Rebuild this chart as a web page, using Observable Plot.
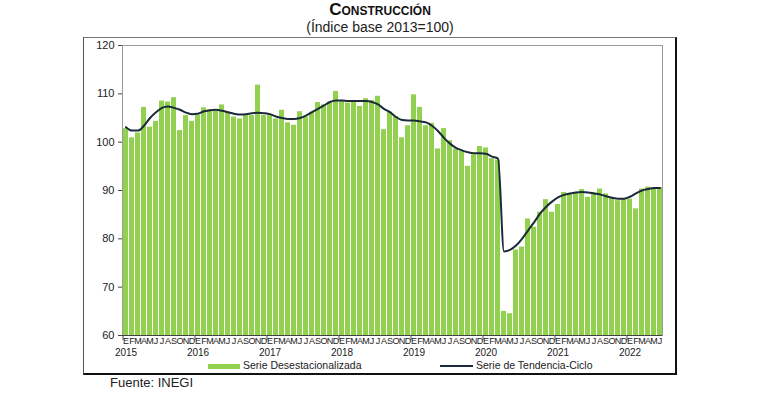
<!DOCTYPE html>
<html><head><meta charset="utf-8">
<script src="https://cdn.jsdelivr.net/npm/d3@7"></script>
<script src="https://cdn.jsdelivr.net/npm/@observablehq/plot@0.6"></script>
<style>
body{margin:0;background:#fff;font-family:"Liberation Sans",Arial,sans-serif;color:#222;}
#wrap{position:relative;width:768px;height:395px;overflow:hidden;background:#fff;}
#title{position:absolute;left:0;width:760px;top:0px;text-align:center;font-weight:bold;font-size:17px;font-variant:small-caps;color:#111;}
#sub{position:absolute;left:0;width:760px;top:19px;text-align:center;font-size:14px;color:#222;}
#box{position:absolute;left:83px;top:37px;width:591px;height:335px;border-left:1px solid #555;border-top:1px solid #777;border-right:2px solid #111;border-bottom:2px solid #111;}
#chart{position:absolute;left:0;top:0;}
.lg{position:absolute;top:359px;font-size:10.5px;color:#222;white-space:nowrap;}
.sw{display:inline-block;vertical-align:middle;}
#src{position:absolute;left:110px;top:375px;font-size:13px;color:#222;}
</style></head><body>
<div id="wrap">
  <div id="title">Construcción</div>
  <div id="sub">(Índice base 2013=100)</div>
  <div id="box"></div>
  <div id="chart"></div>
  <div class="lg" style="left:208px"><span class="sw" style="width:32px;height:5px;background:#92D050;margin-right:3px"></span>Serie Desestacionalizada</div>
  <div class="lg" style="left:440px"><span class="sw" style="width:33px;height:2px;background:#1B2A3A;margin-right:3px"></span>Serie de Tendencia-Ciclo</div>
  <div id="src">Fuente: INEGI</div>
</div>
<script>
const years = ["2015","2016","2017","2018","2019","2020","2021","2022"];
const monthLetters = ["E","F","M","A","M","J","J","A","S","O","N","D"];
const yTicks = [60,70,80,90,100,110,120];
// Serie desestacionalizada, enero 2015 - junio 2022
const desest = [
  102.8,100.9,101.9,107.2,103.1,104.3,108.5,108.3,109.2,102.4,105.5,104.3,
  105.5,107.1,106.7,106.4,107.7,106.2,105.2,104.8,105.5,105.5,111.8,105.5,
  105.5,104.8,106.6,104.0,103.5,106.3,105.2,106.2,108.2,107.7,108.1,110.5,
  108.4,108.1,108.3,107.4,109.0,108.6,109.5,102.6,106.2,105.3,100.9,103.4,
  109.8,107.2,103.4,103.9,98.6,102.8,100.3,98.6,98.1,95.0,97.4,99.1,
  98.8,96.6,96.3,65.0,64.5,77.7,78.3,84.1,82.4,85.5,88.1,85.5,
  87.1,89.6,89.2,89.6,90.2,88.6,89.5,90.3,89.3,88.5,87.9,88.1,
  88.2,86.2,90.3,90.7,90.3,90.6
];
// Serie de tendencia-ciclo
const tendencia = [
  103.1,102.4,102.4,103.4,105.0,106.2,107.1,107.4,107.1,106.7,106.1,105.8,
  105.9,106.4,106.6,106.7,106.5,106.2,105.9,105.7,105.8,106.0,106.1,106.0,
  105.8,105.3,105.0,104.8,104.8,105.0,105.5,106.2,106.9,107.6,108.3,108.6,
  108.6,108.5,108.5,108.5,108.5,108.3,107.8,106.9,106.2,105.2,104.6,104.5,
  104.5,104.3,104.1,103.4,102.3,100.9,99.7,98.8,98.3,97.9,97.7,97.7,
  97.6,97.0,96.6,77.4,77.7,78.6,80.0,81.7,83.4,85.2,86.6,87.7,
  88.6,89.1,89.4,89.6,89.7,89.6,89.4,89.2,88.8,88.5,88.3,88.3,
  88.7,89.4,90.0,90.3,90.5,90.5
];

const idx = desest.map((_, i) => i);
const data = idx.map(i => ({i, v: desest[i], t: tendencia[i], m: monthLetters[i % 12]}));
const jan = idx.filter(i => i % 12 === 0);
const font = '"Liberation Sans", Arial, sans-serif';

const chart = Plot.plot({
  width: 768, height: 372,
  marginTop: 45, marginBottom: 37, marginLeft: 122, marginRight: 106,
  style: {fontFamily: font, fontSize: "11px", color: "#222", background: "transparent"},
  x: {type: "band", domain: idx, paddingInner: 0.25, paddingOuter: 0.125, axis: null},
  y: {domain: [yTicks[0], yTicks[yTicks.length - 1]], axis: null},
  marks: [
    Plot.frame({stroke: "#9a9a9a"}),
    Plot.barY(data, {x: "i", y1: yTicks[0], y2: "v", fill: "#92D050"}),
    Plot.lineY(data, {x: "i", y: "t", stroke: "#1B2A3A", strokeWidth: 2, curve: "monotone-x"}),
    Plot.ruleY([yTicks[0]], {stroke: "#444"}),
    Plot.axisY(yTicks, {tickSize: 4, tickPadding: 4, fontSize: 11, label: null, stroke: "#444"}),
    Plot.axisX(jan, {tickSize: 5, tickFormat: () => "", dx: -3, stroke: "#444", label: null}),
    Plot.text(data, {x: "i", y: yTicks[0], text: "m", lineAnchor: "top", dy: 2, fontSize: 9, fill: "#222"}),
    Plot.text(jan, {x: d => d, y: yTicks[0], text: d => years[d / 12], lineAnchor: "top", dy: 13, fontSize: 10, fill: "#222"})
  ]
});
document.getElementById("chart").appendChild(chart);
</script>
</body></html>
